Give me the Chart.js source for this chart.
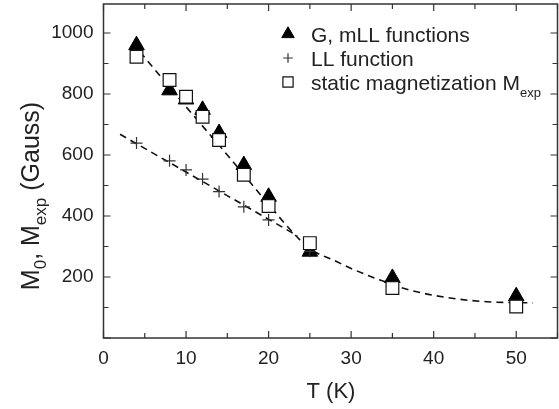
<!DOCTYPE html>
<html>
<head>
<meta charset="utf-8">
<script src="https://cdn.jsdelivr.net/npm/chart.js@4.4.1/dist/chart.umd.min.js"></script>
<style>
  html, body { margin: 0; padding: 0; background: #fff; }
  #wrap { width: 559px; height: 409px; }
</style>
</head>
<body>
<div id="wrap"><canvas id="myChart"></canvas></div>
<script>
// measured points
const tempT = [4, 8, 10, 12, 14, 17, 20, 25, 35, 50];
const gmllM = [960, 812, 782, 748, 672, 567, 463, 283, 197, 137];
const staticM = [922, 846, 791, 725, 649, 535, 433, 311, 164, 103];
const llT = [4, 8, 10, 12, 14, 17, 20, 25];
const llM = [639, 581, 551, 521, 480, 430, 387, 284];

// dashed fit curves
const fitT = [3.5, 10, 15, 20, 23, 25, 27.8, 30, 33.5, 37, 42, 46.4, 52];
const fitM = [968, 758, 600, 438, 344, 292, 256, 228, 190, 158, 131, 119, 115];
const llFitT = [2, 23.5];
const llFitM = [668, 335];

const xTicks = [0, 10, 20, 30, 40, 50];
const yTicks = [200, 400, 600, 800, 1000];

const FONT = "'Liberation Sans', Arial, Helvetica, sans-serif";
const TXT = '#222';

const pts = (xs, ys) => xs.map((x, i) => ({ x: x, y: ys[i] }));

// frame, inward ticks on all four sides, tick labels
const frameTicks = {
    id: 'frameTicks',
    afterDraw(chart) {
        const ctx = chart.ctx;
        const a = chart.chartArea;
        const xs = chart.scales.x, ys = chart.scales.y;
        ctx.save();
        ctx.strokeStyle = '#333';
        ctx.lineWidth = 1.5;
        ctx.strokeRect(a.left, a.top, a.right - a.left, a.bottom - a.top);
        ctx.lineWidth = 1.2;
        ctx.beginPath();
        for (let v = 0; v <= 55; v += 5) {
            const p = xs.getPixelForValue(v);
            const len = v % 10 === 0 ? 7 : 5;
            ctx.moveTo(p, a.bottom); ctx.lineTo(p, a.bottom - len);
            ctx.moveTo(p, a.top); ctx.lineTo(p, a.top + len);
        }
        for (let v = 0; v <= 1000; v += 100) {
            const p = ys.getPixelForValue(v);
            const len = v % 200 === 0 ? 7 : 5;
            ctx.moveTo(a.left, p); ctx.lineTo(a.left + len, p);
            ctx.moveTo(a.right, p); ctx.lineTo(a.right - len, p);
        }
        ctx.stroke();

        ctx.fillStyle = TXT;
        ctx.font = '19px ' + FONT;
        ctx.textAlign = 'center';
        ctx.textBaseline = 'alphabetic';
        xTicks.forEach(v => ctx.fillText(String(v), xs.getPixelForValue(v), a.bottom + 26));
        ctx.textAlign = 'right';
        ctx.textBaseline = 'middle';
        yTicks.forEach(v => ctx.fillText(String(v), a.left - 10, ys.getPixelForValue(v)));
        ctx.restore();
    }
};

// draws runs of [text, isSub] starting at x on baseline y
function drawRuns(ctx, runs, x, y, size, subSize, subDrop) {
    runs.forEach(r => {
        ctx.font = (r[1] ? subSize : size) + 'px ' + FONT;
        ctx.fillText(r[0], x, y + (r[1] ? subDrop : 0));
        x += ctx.measureText(r[0]).width;
    });
    return x;
}
function runsWidth(ctx, runs, size, subSize) {
    let w = 0;
    runs.forEach(r => {
        ctx.font = (r[1] ? subSize : size) + 'px ' + FONT;
        w += ctx.measureText(r[0]).width;
    });
    return w;
}

const labelsPlugin = {
    id: 'labelsPlugin',
    afterDraw(chart) {
        const ctx = chart.ctx;
        ctx.save();
        ctx.fillStyle = TXT;
        ctx.textBaseline = 'alphabetic';
        ctx.textAlign = 'left';

        // x title
        ctx.font = '22px ' + FONT;
        const xt = 'T (K)';
        ctx.fillText(xt, 331 - ctx.measureText(xt).width / 2, 398);

        // y title, rotated
        const yRuns = [['M', false], ['0', true], [', M', false], ['exp', true], [' (Gauss)', false]];
        const w = runsWidth(ctx, yRuns, 25, 17);
        ctx.translate(39, 196);
        ctx.rotate(-Math.PI / 2);
        drawRuns(ctx, yRuns, -w / 2, 0, 25, 17, 7);
        ctx.setTransform(1, 0, 0, 1, 0, 0);

        // legend
        const items = [
            { ds: 0, runs: [['G, mLL functions', false]], y: 35 },
            { ds: 2, runs: [['LL function', false]], y: 59 },
            { ds: 1, runs: [['static magnetization M', false], ['exp', true]], y: 83 }
        ];
        items.forEach(it => {
            const d = chart.data.datasets[it.ds];
            ctx.fillStyle = d.pointBackgroundColor;
            ctx.strokeStyle = d.pointBorderColor;
            ctx.lineWidth = d.pointBorderWidth;
            Chart.helpers.drawPoint(ctx, { pointStyle: d.pointStyle, radius: d.pointRadius * 0.8, borderWidth: d.pointBorderWidth }, 288, it.y - 1);
            ctx.fillStyle = TXT;
            drawRuns(ctx, it.runs, 311, it.y + 7, 21, 13, 7);
        });
        ctx.restore();
    }
};

const ctx = document.getElementById('myChart').getContext('2d');
new Chart(ctx, {
    type: 'scatter',
    data: {
        datasets: [
            {
                label: 'G, mLL functions',
                data: pts(tempT, gmllM),
                pointStyle: 'triangle',
                pointRadius: 9,
                pointBackgroundColor: '#000',
                pointBorderColor: '#000',
                pointBorderWidth: 1,
                order: 3
            },
            {
                label: 'static magnetization Mexp',
                data: pts(tempT, staticM),
                pointStyle: 'rect',
                pointRadius: 9,
                pointBackgroundColor: '#fff',
                pointBorderColor: '#111',
                pointBorderWidth: 1.2,
                order: 1
            },
            {
                label: 'LL function',
                data: pts(llT, llM),
                pointStyle: 'cross',
                pointRadius: 6,
                pointBackgroundColor: '#333',
                pointBorderColor: '#333',
                pointBorderWidth: 1.2,
                order: 2
            },
            {
                label: 'fit',
                data: pts(fitT, fitM),
                showLine: true,
                cubicInterpolationMode: 'monotone',
                borderColor: '#111',
                borderWidth: 1.6,
                borderDash: [7, 5],
                pointRadius: 0,
                order: 4
            },
            {
                label: 'LL fit',
                data: pts(llFitT, llFitM),
                showLine: true,
                borderColor: '#111',
                borderWidth: 1.6,
                borderDash: [7, 5],
                pointRadius: 0,
                order: 4
            }
        ]
    },
    options: {
        responsive: true,
        maintainAspectRatio: false,
        animation: false,
        layout: { autoPadding: false, padding: { top: 4, right: 1.5, left: 0, bottom: 0 } },
        plugins: {
            legend: { display: false },
            tooltip: { enabled: false }
        },
        scales: {
            x: {
                type: 'linear',
                min: 0, max: 55,
                afterFit: s => { s.height = 71; },
                grid: { display: false, drawTicks: false },
                border: { display: false },
                ticks: { display: false }
            },
            y: {
                type: 'linear',
                min: 0, max: 1095,
                afterFit: s => { s.width = 103.5; },
                grid: { display: false, drawTicks: false },
                border: { display: false },
                ticks: { display: false }
            }
        }
    },
    plugins: [frameTicks, labelsPlugin]
});
</script>
</body>
</html>
